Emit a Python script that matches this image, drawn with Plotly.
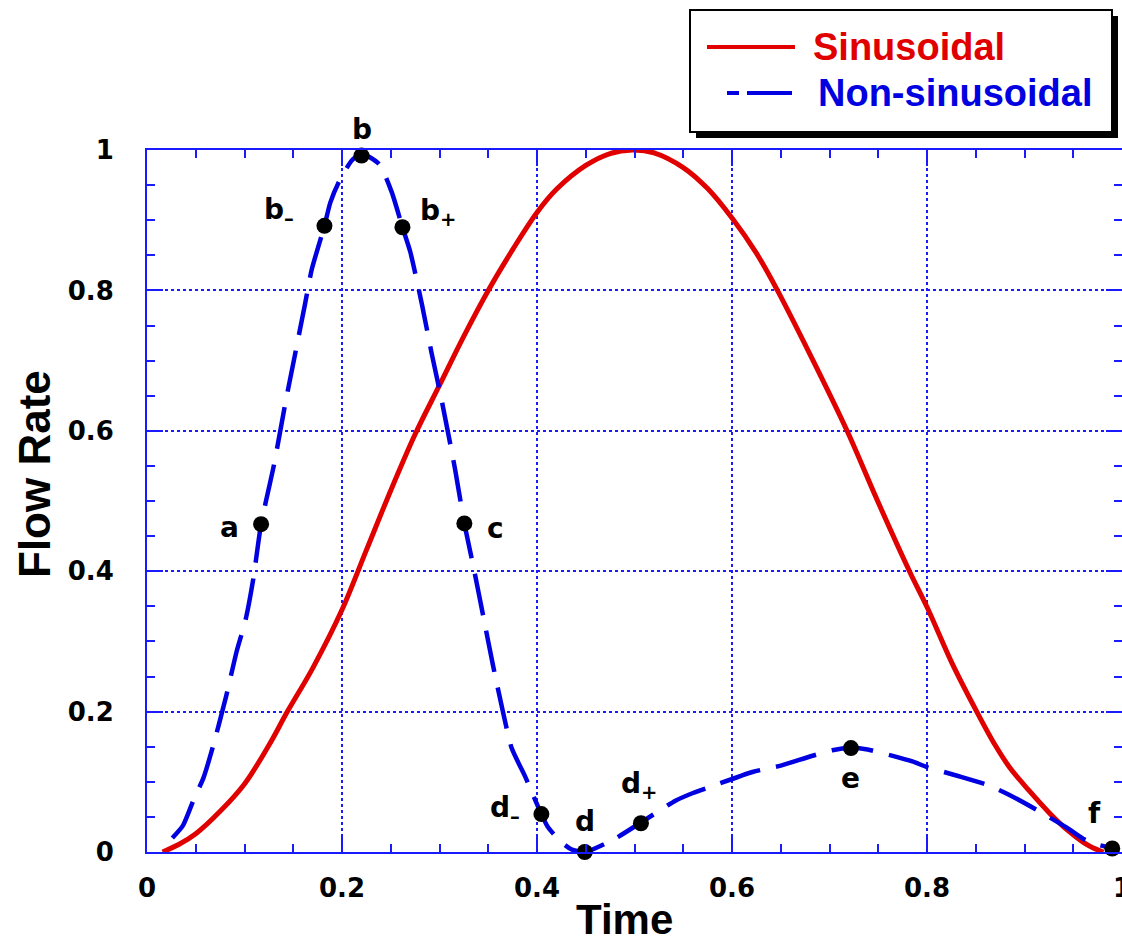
import plotly.graph_objects as go

# ---------------- data ----------------
red_t = [0.016, 0.033, 0.05, 0.075, 0.100, 0.125, 0.144, 0.170, 0.200, 0.225, 0.250, 0.275,
         0.300, 0.325, 0.350, 0.375, 0.400, 0.420, 0.450, 0.475, 0.498, 0.520, 0.550, 0.575,
         0.600, 0.625, 0.6466, 0.681, 0.718, 0.749, 0.782, 0.800, 0.826, 0.851, 0.870, 0.885,
         0.905, 0.926, 0.945, 0.960, 0.970, 0.981]
red_q = [0.0, 0.011, 0.026, 0.058, 0.097, 0.152, 0.200, 0.262, 0.345, 0.430, 0.515, 0.595,
         0.665, 0.735, 0.800, 0.858, 0.911, 0.944, 0.978, 0.995, 1.0, 0.996, 0.975, 0.945,
         0.903, 0.853, 0.800, 0.706, 0.600, 0.501, 0.400, 0.349, 0.268, 0.200, 0.152, 0.120,
         0.087, 0.055, 0.030, 0.014, 0.006, 0.0]

blue_t = [0.026, 0.037, 0.048, 0.058, 0.068, 0.081, 0.092, 0.101, 0.109, 0.117, 0.130, 0.142,
          0.152, 0.162, 0.169, 0.182, 0.188, 0.197, 0.210, 0.220, 0.238, 0.251, 0.262, 0.270,
          0.282, 0.292, 0.302, 0.316, 0.3255, 0.335, 0.345, 0.355, 0.365, 0.374, 0.388, 0.396,
          0.4045, 0.411, 0.425, 0.435, 0.449, 0.480, 0.5066, 0.542, 0.560, 0.580, 0.621, 0.650,
          0.680, 0.703, 0.722, 0.739, 0.762, 0.785, 0.800, 0.830, 0.863, 0.882, 0.910, 0.943,
          0.960, 0.974, 0.990]
blue_q = [0.02, 0.038, 0.075, 0.106, 0.152, 0.221, 0.286, 0.33, 0.389, 0.467, 0.55, 0.64,
          0.71, 0.78, 0.83, 0.892, 0.925, 0.955, 0.985, 0.995, 0.98, 0.94, 0.89, 0.855,
          0.78, 0.71, 0.645, 0.545, 0.468, 0.405, 0.335, 0.265, 0.2, 0.148, 0.107, 0.081,
          0.054, 0.036, 0.014, 0.004, 0.0, 0.019, 0.042, 0.073, 0.084, 0.094, 0.114, 0.123,
          0.136, 0.145, 0.148, 0.146, 0.138, 0.129, 0.121, 0.109, 0.095, 0.083, 0.062, 0.035,
          0.019, 0.011, 0.005]

pt_t = [0.117, 0.182, 0.220, 0.262, 0.3255, 0.4045, 0.449, 0.5066, 0.722, 0.99]
pt_q = [0.467, 0.892, 0.992, 0.890, 0.468, 0.054, 0.0, 0.041, 0.148, 0.005]
pt_labels = ["a", "b<sub>\u2013</sub>", "b", "b<sub>+</sub>", "c", "d<sub>\u2013</sub>", "d",
             "d<sub>+</sub>", "e", "f"]

tick_vals = [0, 0.2, 0.4, 0.6, 0.8, 1]
tick_text = ["0", "0.2", "0.4", "0.6", "0.8", "1"]

series_names = ["Sinusoidal", "Non-sinusoidal"]
x_title = "Time"
y_title = "Flow Rate"

# ---------------- styling ----------------
RED = "#e00000"
BLUE = "#0000e0"
AX = "#1a1aff"
W, H = 1122, 942
ML, MR, MT, MB = 147, 0, 150, 90
PW, PH = W - ML - MR, H - MT - MB

def pxx(px):
    return (px - ML) / PW

def pxy(py):
    return (H - MB - py) / PH

label_shift = [(-32, -3), (-45, 14), (0, 26), (36, 15), (31, -5), (-36, 5), (0, 31),
               (-2, 38), (0, -30), (-18, 35)]

fig = go.Figure()
fig.add_trace(go.Scatter(x=red_t, y=red_q, mode="lines", name=series_names[0],
                         line=dict(color=RED, width=5, shape="spline", smoothing=1.0),
                         showlegend=False))
fig.add_trace(go.Scatter(x=blue_t, y=blue_q, mode="lines", name=series_names[1],
                         line=dict(color=BLUE, width=4.5, dash="42px,16px", shape="spline",
                                   smoothing=0.6),
                         showlegend=False))
fig.add_trace(go.Scatter(x=pt_t, y=pt_q, mode="markers", name="points",
                         marker=dict(color="black", size=16), cliponaxis=False,
                         showlegend=False))

for t, q, lab, (dx, dy) in zip(pt_t, pt_q, pt_labels, label_shift):
    fig.add_annotation(x=t, y=q, text=lab, showarrow=False, xshift=dx, yshift=dy,
                       font=dict(family="DejaVu Sans", size=28, color="black", weight="bold"))

axis_common = dict(
    range=[0, 1], tickvals=tick_vals, ticktext=tick_text,
    showline=True, linecolor=AX, linewidth=2, mirror="ticks",
    ticks="inside", ticklen=16, tickwidth=2, tickcolor=AX,
    minor=dict(ticks="inside", ticklen=8, tickwidth=2, tickcolor=AX, dtick=0.05,
               showgrid=False),
    showgrid=True, gridcolor=AX, gridwidth=1.5, griddash="dot",
    zeroline=False, ticklabeloverflow="allow",
    tickfont=dict(family="DejaVu Sans", size=26, color="black", weight="bold"),
)

fig.update_xaxes(**axis_common, ticklabelstandoff=12)
fig.update_yaxes(**axis_common, ticklabelstandoff=26)

# axis titles placed where the reference draws them
fig.add_annotation(xref="paper", yref="paper", x=pxx(624), y=pxy(919), text=x_title,
                   showarrow=False, xanchor="center", yanchor="middle",
                   font=dict(family="Liberation Sans", size=42, color="black", weight="bold"))
fig.add_annotation(xref="paper", yref="paper", x=pxx(34), y=pxy(474), text=y_title,
                   textangle=-90, showarrow=False, xanchor="center", yanchor="middle",
                   font=dict(family="Liberation Sans", size=44, color="black", weight="bold"))

# ---------------- custom legend box ----------------
bx0, by0, bx1, by1 = 690, 10, 1112, 132
fig.add_shape(type="rect", xref="paper", yref="paper", layer="above",
              x0=pxx(bx0 + 6), x1=pxx(bx1 + 6), y0=pxy(by1 + 6), y1=pxy(by0 + 6),
              fillcolor="black", line=dict(width=0))
fig.add_shape(type="rect", xref="paper", yref="paper", layer="above",
              x0=pxx(bx0), x1=pxx(bx1), y0=pxy(by1), y1=pxy(by0),
              fillcolor="white", line=dict(color="black", width=2))
fig.add_shape(type="line", xref="paper", yref="paper", layer="above",
              x0=pxx(707), x1=pxx(795), y0=pxy(47), y1=pxy(47),
              line=dict(color=RED, width=4))
fig.add_shape(type="line", xref="paper", yref="paper", layer="above",
              x0=pxx(727), x1=pxx(792), y0=pxy(93), y1=pxy(93),
              line=dict(color=BLUE, width=4, dash="12px,8px,45px,8px"))
fig.add_annotation(xref="paper", yref="paper", x=pxx(811), y=pxy(47), text=series_names[0],
                   xanchor="left", yanchor="middle", showarrow=False,
                   font=dict(family="Liberation Sans", size=38, color=RED, weight="bold"))
fig.add_annotation(xref="paper", yref="paper", x=pxx(816), y=pxy(93), text=series_names[1],
                   xanchor="left", yanchor="middle", showarrow=False,
                   font=dict(family="Liberation Sans", size=38, color=BLUE, weight="bold"))

fig.update_layout(width=W, height=H, margin=dict(l=ML, r=MR, t=MT, b=MB, autoexpand=False),
                  plot_bgcolor="white", paper_bgcolor="white", showlegend=False)

fig.write_html("out.html")
